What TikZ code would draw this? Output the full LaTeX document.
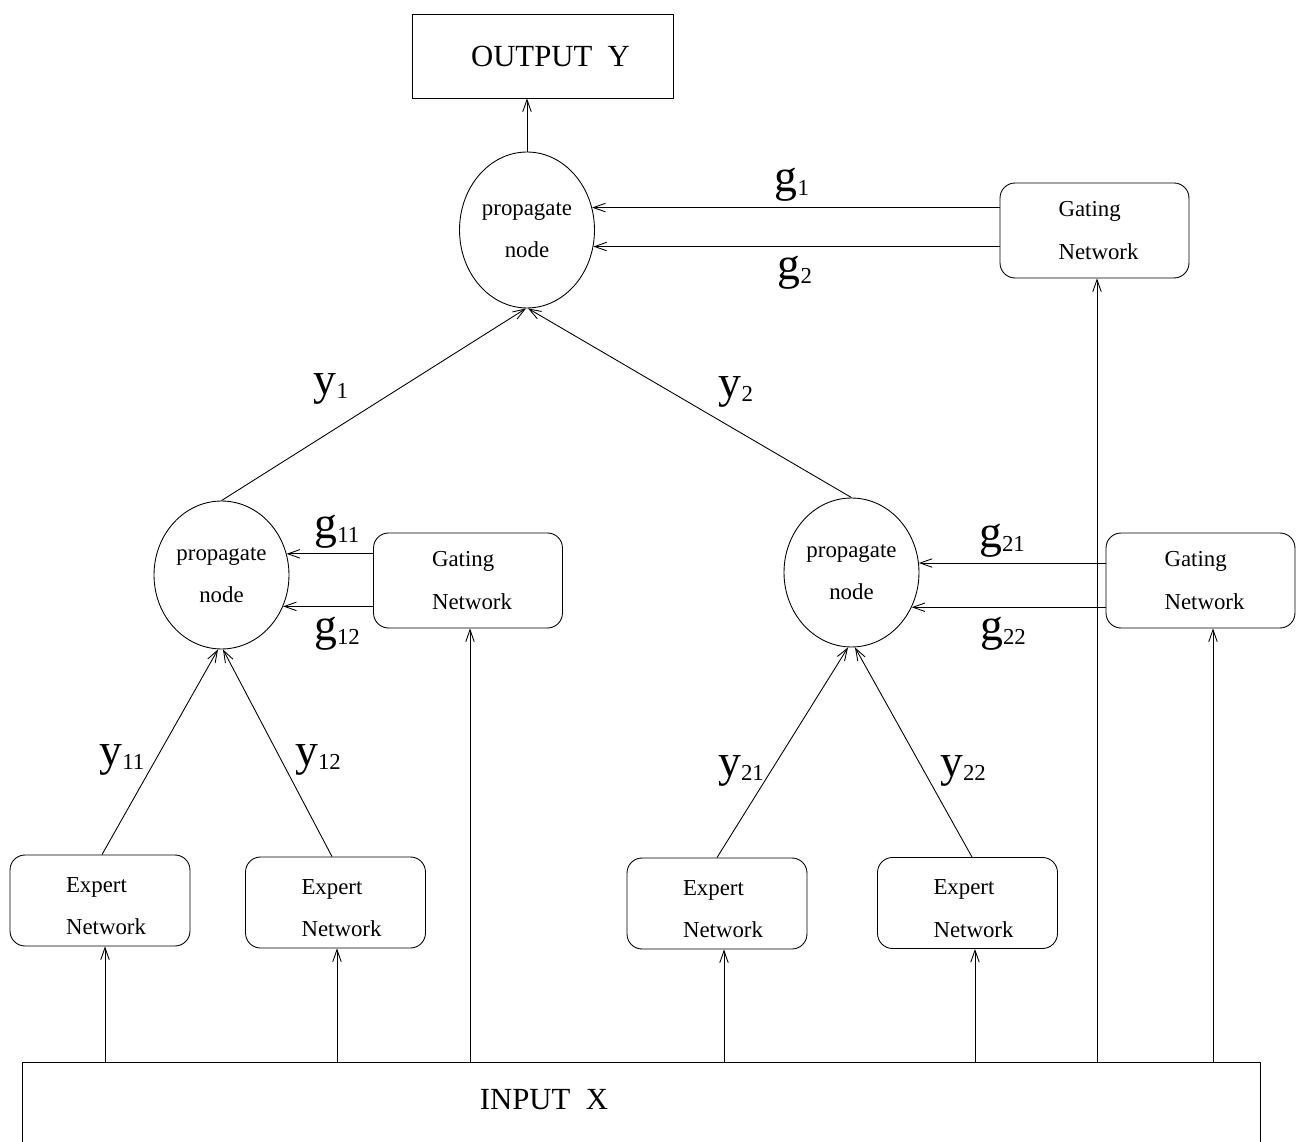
\documentclass[tikz,border=0pt]{standalone}
\usepackage{fontspec}
\setmainfont{Liberation Serif}
\usetikzlibrary{arrows.meta,shapes.geometric}
\tikzset{
  base/.style={draw=black, line width=0.5pt},
  box/.style={base, rectangle, rounded corners=0.3cm, minimum width=3.6cm, minimum height=1.82cm, align=left, inner sep=0pt, font=\fontsize{13}{24}\selectfont},
  gbox/.style={box, minimum width=3.78cm, minimum height=1.9cm},
  prop/.style={base, ellipse, minimum width=2.7cm, minimum height=3cm, align=center, inner sep=0pt, font=\fontsize{13}{24}\selectfont},
  io/.style={base, rectangle, inner sep=0pt, font=\fontsize{17.5}{20}\selectfont},
  lab/.style={inner sep=0pt, font=\fontsize{26}{28}\selectfont},
  flow/.style={base, -{Straight Barb[length=2.4mm,width=1.7mm]}},
}
\newcommand\sublab[2]{#1{\fontsize{13}{14}\selectfont\raisebox{-2.2pt}{#2}}}
\newcommand\gtext{\hspace*{0.16cm}Gating\\\hspace*{0.16cm}Network}
\newcommand\etext{\rule{0pt}{15pt}\hspace*{0.24cm}Expert\\\hspace*{0.24cm}Network}

\begin{document}
\begin{tikzpicture}[x=0.02cm, y=-0.02cm]
  \useasboundingbox (0,0) rectangle (1303,1142);
  % output and input
  \node[io, minimum width=5.22cm, minimum height=1.68cm] (out) at (542.5,56) {\hspace*{0.32cm}OUTPUT\ \ Y};
  \node[io, minimum width=24.76cm, minimum height=2.5cm, anchor=north west] (in) at (22,1062) {};
  \node[io, draw=none] (inx) at (544,1100) {INPUT\ \ X};
  % propagate nodes
  \node[prop, minimum height=3.12cm] (p) at (527,230) {propagate\\node};
  \node[prop, minimum height=2.96cm] (pl) at (221.5,575) {propagate\\node};
  \node[prop, minimum height=2.98cm] (pr) at (851.5,572.5) {propagate\\node};
  % gating networks
  \node[gbox] (g) at (1094.5,230.5) {\gtext};
  \node[gbox] (gl) at (468,580.5) {\gtext};
  \node[gbox] (gr) at (1200.5,580.5) {\gtext};
  % expert networks
  \node[box] (e1) at (100,900.5) {\etext};
  \node[box] (e2) at (335.5,902.5) {\etext};
  \node[box] (e3) at (717,903.5) {\etext};
  \node[box] (e4) at (967.5,903) {\etext};

  \draw[flow] (p.north) -- (p.north |- out.south);
  \draw[flow] (g.west |- p.19.6) -- (p.19.6);
  \draw[flow] (g.west |- p.-14.5) -- (p.-14.5);
  \draw[flow] (pl.north) -- ([xshift=-0.02cm]p.south);
  \draw[flow] (pr.north) -- ([xshift=0.02cm]p.south);

  \draw[flow] (gl.west |- pl.18.9) -- (pl.18.9);
  \draw[flow] (gl.west |- pl.-27.7) -- (pl.-27.7);
  \draw[flow] (gr.west |- pr.8.1) -- (pr.8.1);
  \draw[flow] (gr.west |- pr.-30) -- (pr.-30);

  \draw[flow] ([xshift=0.04cm]e1.north) -- ([xshift=-0.07cm]pl.south);
  \draw[flow] ([xshift=-0.07cm]e2.north) -- ([xshift=0.03cm]pl.south);
  \draw[flow] (e3.north) -- ([xshift=-0.07cm]pr.south);
  \draw[flow] ([xshift=0.09cm]e4.north) -- ([xshift=0.07cm]pr.south);

  \draw[flow] ([xshift=0.1cm]e1.south |- in.north) -- ([xshift=0.1cm]e1.south);
  \draw[flow] ([xshift=0.03cm]e2.south |- in.north) -- ([xshift=0.03cm]e2.south);
  \draw[flow] ([xshift=0.04cm]gl.south |- in.north) -- ([xshift=0.04cm]gl.south);
  \draw[flow] ([xshift=0.14cm]e3.south |- in.north) -- ([xshift=0.14cm]e3.south);
  \draw[flow] ([xshift=0.15cm]e4.south |- in.north) -- ([xshift=0.15cm]e4.south);
  \draw[flow] ([xshift=0.05cm]g.south |- in.north) -- ([xshift=0.05cm]g.south);
  \draw[flow] ([xshift=0.25cm]gr.south |- in.north) -- ([xshift=0.25cm]gr.south);

  % labels
  \node[lab] (lg1) at (792,185) {\sublab{g}{1}};
  \node[lab] (lg2) at (795,273) {\sublab{g}{2}};
  \node[lab] (ly1) at (331,389) {\sublab{y}{1}};
  \node[lab] (ly2) at (736,392) {\sublab{y}{2}};
  \node[lab] (lg11) at (337,532) {\sublab{g}{11}};
  \node[lab] (lg12) at (337,634) {\sublab{g}{12}};
  \node[lab] (lg21) at (1002,541) {\sublab{g}{21}};
  \node[lab] (lg22) at (1003,634) {\sublab{g}{22}};
  \node[lab] (ly11) at (122,760) {\sublab{y}{11}};
  \node[lab] (ly12) at (318,760) {\sublab{y}{12}};
  \node[lab] (ly21) at (741,771) {\sublab{y}{21}};
  \node[lab] (ly22) at (963,771) {\sublab{y}{22}};
\end{tikzpicture}
\end{document}
